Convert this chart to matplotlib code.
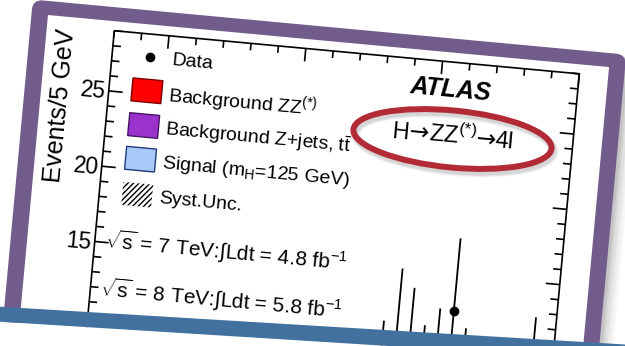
import matplotlib
matplotlib.use("Agg")
import matplotlib.pyplot as plt
from matplotlib.patches import Rectangle, FancyBboxPatch, Ellipse, Polygon
from matplotlib.collections import LineCollection
from matplotlib.transforms import Affine2D

plt.rcParams['font.family'] = ['Liberation Sans', 'DejaVu Sans']
plt.rcParams['mathtext.fontset'] = 'custom'
plt.rcParams['mathtext.rm'] = 'Liberation Sans'
plt.rcParams['mathtext.it'] = 'Liberation Sans:italic'
plt.rcParams['mathtext.bf'] = 'Liberation Sans:bold'

# ---- data: four-lepton mass bins (GeV), events per 5 GeV, Poisson errors
mass = [187.5, 192.5, 197.5, 202.5, 207.5, 212.5, 217.5, 242.5]
events = [8, 10, 9, 8, 9, 12.6, 8, 9]
err_up = [3.55, 5.1, 4.9, 3.5, 3.7, 4.84, 3.55, 3.7]
err_down = [2.8, 3.1, 3.0, 2.8, 3.0, 3.6, 2.8, 3.0]

y_ticks = [15, 20, 25]
y_ticklabels = ['15', '20', '25']
legend_labels = ['Data', r'Background ZZ$^{(*)}$',
                 r'Background Z+jets, $\mathrm{t\bar{t}}$',
                 r'Signal (m$_{\mathrm{H}}$=125 GeV)', 'Syst.Unc.']
lumi_lines = [r'$\sqrt{\mathrm{s}}$ = 7 TeV:∫Ldt = 4.8 fb$^{-1}$',
              r'$\sqrt{\mathrm{s}}$ = 8 TeV:∫Ldt = 5.8 fb$^{-1}$']
# channel label pieces: (text, font family)
channel = [('H', 'Liberation Sans'), ('→', 'DejaVu Sans'),
           (r'ZZ$^{(*)}$', 'Liberation Sans'), ('→', 'DejaVu Sans'),
           ('4l', 'Liberation Sans')]

# ---- plot ranges
XMIN, XMAX = 80, 250
YMIN, YMAX = 0, 29

# ---- page geometry (pixels)
W, H = 625, 346
TILT = 5.3                 # card rotation, degrees clockwise
ORIGIN = (114.3, 30.7)     # top-left corner of the plot frame on the page
AX_W = 467.0               # plot frame width on the card
PX_PER_EVT = 15.12         # vertical scale on the card

PURPLE = '#725c8c'
BLUE = '#4271a0'
RED_RING = '#b22a36'

fig = plt.figure(figsize=(W / 100, H / 100), dpi=100)
ax = fig.add_axes([0, 0, 1, 1])
ax.set_xlim(0, W)
ax.set_ylim(H, 0)
ax.axis('off')
ax.set_autoscale_on(False)

card = Affine2D().rotate_deg(TILT).translate(*ORIGIN) + ax.transData
plot_tr = (Affine2D().translate(-XMIN, -YMAX)
           .scale(AX_W / (XMAX - XMIN), -PX_PER_EVT) + card)


def cu(x):
    return (x - XMIN) * AX_W / (XMAX - XMIN)


def cv(y):
    return (YMAX - y) * PX_PER_EVT


AX_H = cv(YMIN)

# ---- card: soft shadow, purple frame, white page
for k, a in [(14, 0.03), (11, 0.04), (8, 0.05), (5, 0.06), (3, 0.07)]:
    ax.add_patch(FancyBboxPatch((-84 + k, -23.5 + k * 0.4), 596, 700,
                                boxstyle='round,pad=0,rounding_size=10',
                                facecolor='black', edgecolor='none', alpha=a,
                                transform=card, zorder=1))
ax.add_patch(FancyBboxPatch((-84, -23.5), 596, 700,
                            boxstyle='round,pad=0,rounding_size=10',
                            facecolor=PURPLE, edgecolor='none',
                            transform=card, zorder=2))
ax.add_patch(Rectangle((-67.5, -9.5), 563.5, 700, facecolor='white',
                       edgecolor='none', transform=card, zorder=3))

# ---- plot frame
ax.add_patch(Rectangle((0, 0), AX_W, AX_H, fill=False, edgecolor='black',
                       linewidth=1.2, transform=card, zorder=5))

segs = []
for yv in range(YMIN, YMAX + 1):
    L = 14 if yv % 5 == 0 else 8
    v = cv(yv)
    segs.append([(0, v), (L, v)])
    segs.append([(AX_W - L, v), (AX_W, v)])
for xv in range(XMIN, XMAX + 1, 10):
    L = 13 if xv % 50 == 0 else 7
    u = cu(xv)
    segs.append([(u, 0), (u, L)])
ax.add_collection(LineCollection(segs, colors='black', linewidths=1.2,
                                 transform=card, zorder=5))

for yv, lab in zip(y_ticks, y_ticklabels):
    ax.text(-3, cv(yv) + 1.5, lab, transform=card, ha='right', va='center',
            rotation=-TILT, rotation_mode='anchor', fontsize=16.5, zorder=5)

ax.text(-47, 80, 'Events/5 GeV', transform=card, ha='center', va='center',
        rotation=90 - TILT, rotation_mode='anchor', fontsize=18, zorder=5)

# ---- data points with asymmetric errors
lo = [e - d for e, d in zip(events, err_down)]
hi = [e + u for e, u in zip(events, err_up)]
ax.vlines(mass, lo, hi, colors='black', linewidth=1.3, transform=plot_tr,
          zorder=6)
ax.plot(mass, events, 'o', color='black', markersize=6, transform=plot_tr,
        zorder=6)

# ---- legend
LEG_U, TXT_U = 38, 60
leg_v = [22.7, 56.8, 91.7, 125.5, 161.2]
ax.plot([LEG_U], [leg_v[0]], 'o', color='black', markersize=6,
        transform=card, zorder=6)
box_w, box_h = 30, 23
styles = [dict(facecolor='#ff0000', edgecolor='#7a0000'),
          dict(facecolor='#9933cc', edgecolor='#4a1466'),
          dict(facecolor='#a9c9fb', edgecolor='#1d3c7a'),
          dict(facecolor='white', edgecolor='black', hatch='//////',
               linewidth=0)]
for v, st in zip(leg_v[1:], styles):
    kw = dict(linewidth=1.0)
    kw.update(st)
    ax.add_patch(Rectangle((LEG_U - box_w / 2, v - box_h / 2), box_w, box_h,
                           transform=card, zorder=6, **kw))
for v, lab in zip(leg_v, legend_labels):
    ax.text(TXT_U, v + 2, lab, transform=card, ha='left', va='center',
            rotation=-TILT, rotation_mode='anchor', fontsize=14, zorder=6)

# ---- luminosity lines
for v, lab in zip([209.5, 258.3], lumi_lines):
    ax.text(10, v, lab, transform=card, ha='left', va='center',
            rotation=-TILT, rotation_mode='anchor', fontsize=15, zorder=6)

# ---- experiment and channel labels
ax.text(340, 28, 'ATLAS', transform=card, ha='center', va='center',
        rotation=-TILT, rotation_mode='anchor', fontsize=18,
        fontweight='bold', fontstyle='italic', zorder=6)

renderer = fig.canvas.get_renderer()
CH_SIZE = 17
widths = []
for s, fam in channel:
    t = ax.text(0, 0, s, fontsize=CH_SIZE, family=fam)
    widths.append(t.get_window_extent(renderer).width)
    t.remove()
u = 347 - sum(widths) / 2
for (s, fam), wd in zip(channel, widths):
    ax.text(u, 81, s, transform=card, ha='left', va='baseline',
            family=fam, rotation=-TILT, rotation_mode='anchor',
            fontsize=CH_SIZE, zorder=6)
    u += wd

# ---- red ring around the channel label, with a faint shadow
for k, a in [(10, 0.04), (8, 0.06), (6, 0.07)]:
    ax.add_patch(Ellipse((454.5, 142.5), 199, 57, angle=5.5, fill=False,
                         edgecolor='black', linewidth=k * 0.72, alpha=a,
                         zorder=7))
ax.add_patch(Ellipse((452.5, 139), 199, 57, angle=5.5, fill=False,
                     edgecolor=RED_RING, linewidth=4.3, zorder=8))

# ---- banner across the bottom of the page
ax.add_patch(Polygon([(0, 321.7), (W, 321.7 + W * 0.0625), (W, 420), (0, 420)],
                     closed=True, facecolor='white', edgecolor='none',
                     zorder=9))
ax.add_patch(Polygon([(0, 306.7), (W, 306.7 + W * 0.0605),
                      (W, 321.7 + W * 0.0625), (0, 321.7)],
                     closed=True, facecolor=BLUE, edgecolor='none', zorder=10))

fig.savefig('out.png', dpi=100, facecolor='white')
